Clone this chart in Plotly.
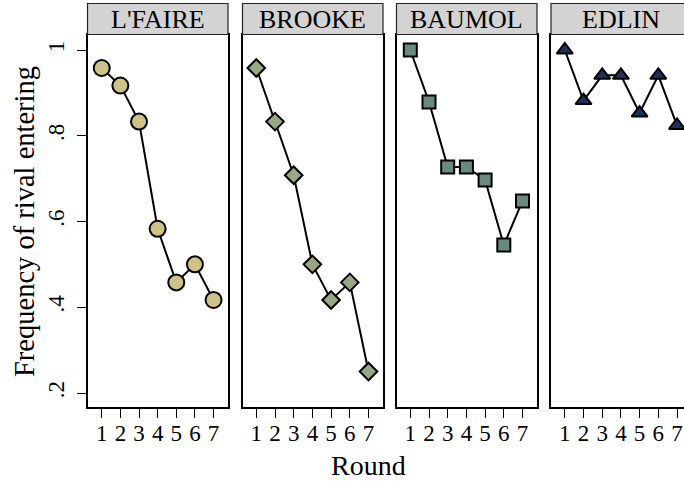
import plotly.graph_objects as go

rounds = [1, 2, 3, 4, 5, 6, 7]
panels = ["L'FAIRE", "BROOKE", "BAUMOL", "EDLIN"]
lfaire = [0.958, 0.917, 0.833, 0.583, 0.458, 0.500, 0.417]
brooke = [0.958, 0.833, 0.708, 0.500, 0.417, 0.458, 0.250]
baumol = [1.000, 0.879, 0.727, 0.727, 0.697, 0.545, 0.648]
edlin = [1.000, 0.882, 0.941, 0.941, 0.853, 0.941, 0.824]
series = [lfaire, brooke, baumol, edlin]
ytick_vals = [0.2, 0.4, 0.6, 0.8, 1.0]
ytick_text = [".2", ".4", ".6", ".8", "1"]
xtitle = "Round"
ytitle = "Frequency of rival entering"

symbols = ["circle", "diamond", "square", "triangle-up"]
fills = ["#cec386", "#9aa783", "#688b7d", "#1d305c"]
sizes = [16, 13.5, 13, 14]

W, H = 684, 481
ML, MR, MT, MB = 88, 0, 35, 74
PW = W - ML - MR
PH = H - MT - MB
FONT = "Liberation Serif"

def px2x(p):
    return (p - ML) / PW

def py2y(p):
    return (H - MB - p) / PH

# panel pixel extents (left, right)
pan_px = [(87.5, 228.0), (242.5, 383.0), (396.5, 537.0), (551.0, 684.0)]
unit = 18.7
fig = go.Figure()

for i, (name, vals) in enumerate(zip(panels, series)):
    ax = "" if i == 0 else str(i + 1)
    fig.add_trace(go.Scatter(
        x=rounds, y=vals, mode="lines+markers",
        xaxis="x" + ax, yaxis="y" + ax,
        line=dict(color="black", width=2),
        marker=dict(symbol=symbols[i], size=sizes[i], color=fills[i],
                    line=dict(color="black", width=2)),
        showlegend=False, hoverinfo="skip",
    ))
    l, r = pan_px[i]
    x0 = 1 - (13.8 / unit)
    x1 = x0 + (r - l) / unit
    xa = dict(domain=[max(0, px2x(l)), min(1, px2x(r))], range=[x0, x1],
              tickvals=rounds, ticktext=[str(v) for v in rounds],
              ticks="outside", ticklen=9, tickwidth=1.2, tickcolor="black",
              showline=True, mirror=True, linecolor="black", linewidth=2,
              showgrid=False, zeroline=False, anchor="y" + ax,
              automargin=False, ticklabelstandoff=-5,
              tickfont=dict(family=FONT, size=23, color="black"))
    ya = dict(domain=[0, 1], range=[0.2 - 14 / 428.75, 1 + 15 / 428.75],
              showline=True, mirror=(i != 3), linecolor="black", linewidth=2,
              showgrid=False, zeroline=False, anchor="x" + ax,
              automargin=False)
    if i == 0:
        ya.update(tickvals=ytick_vals, ticktext=ytick_text, ticks="outside",
                  ticklen=9, tickwidth=1.2, tickcolor="black", tickangle=-90,
                  ticklabelstandoff=4,
                  tickfont=dict(family=FONT, size=23, color="black"))
    else:
        ya.update(showticklabels=False, ticks="", matches="y")
    fig.update_layout(**{"xaxis" + ax: xa, "yaxis" + ax: ya})

    # header strip
    hr = l + 140.5
    fig.add_shape(type="rect", xref="paper", yref="paper",
                  x0=px2x(l), x1=px2x(hr), y0=py2y(34.5), y1=py2y(3.5),
                  fillcolor="#d3d3d3", line=dict(color="#222222", width=1.2),
                  layer="above")
    fig.add_annotation(text=name, xref="paper", yref="paper",
                       x=px2x((l + hr) / 2), y=py2y(19.5),
                       xanchor="center", yanchor="middle", showarrow=False,
                       font=dict(family=FONT, size=26, color="black"))

fig.add_annotation(text=xtitle, xref="paper", yref="paper",
                   x=px2x(368), y=py2y(465), xanchor="center", yanchor="middle",
                   showarrow=False, font=dict(family=FONT, size=28, color="black"))
fig.add_annotation(text=ytitle, xref="paper", yref="paper",
                   x=px2x(24), y=py2y(222), xanchor="center", yanchor="middle",
                   textangle=-90, showarrow=False,
                   font=dict(family=FONT, size=28.5, color="black"))

fig.update_layout(width=W, height=H, margin=dict(l=ML, r=MR, t=MT, b=MB,
                                                 autoexpand=False),
                  paper_bgcolor="white", plot_bgcolor="white",
                  font=dict(family=FONT, color="black"))

fig.write_html("out.html", config={"displayModeBar": False},
               post_script="document.body.style.margin='0px';"
                           "document.body.style.overflow='hidden';")
